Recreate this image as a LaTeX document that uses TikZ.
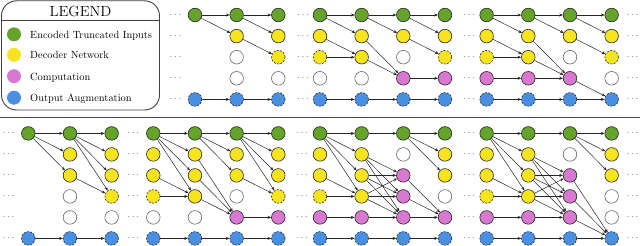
\documentclass[tikz,border=0pt]{standalone}
\usetikzlibrary{arrows.meta}
\definecolor{cgreen}{RGB}{102,163,42}
\definecolor{cyellow}{RGB}{247,227,30}
\definecolor{cpink}{RGB}{217,120,208}
\definecolor{cblue}{RGB}{74,144,226}
\begin{document}
\begin{tikzpicture}[x=1pt,y=-1pt,
  nd/.style={circle,minimum size=13.6pt,inner sep=0pt,line width=0.6pt,draw=black!85},
  nenc/.style={nd,fill=cgreen},
  ndec/.style={nd,fill=cyellow},
  nlast/.style={nd,fill=cyellow,dash pattern=on 2pt off 1.4pt},
  ncomp/.style={nd,fill=cpink},
  nout/.style={nd,fill=cblue,dash pattern=on 2pt off 1.4pt},
  nemp/.style={nd,fill=white,draw=black!60},
  arr/.style={-{Stealth[length=3.6pt,width=3pt]},line width=0.5pt,draw=black!85},
  dotsn/.style={text=black!55,inner sep=0pt},
  lgc/.style={circle,minimum size=14pt,inner sep=0pt},
  lgt/.style={anchor=base west,inner sep=0pt,font=\fontsize{10.4}{12}\selectfont}
]
\useasboundingbox (0,0) rectangle (640,246);

% legend
\node[draw=black!75,line width=0.9pt,rounded corners=15pt,minimum width=158pt,minimum height=109.2pt,inner sep=0pt] (legbox) at (80.5,55.4) {};
\draw[draw=black!75,line width=0.9pt] (legbox.west |- 0,20.7) -- (legbox.east |- 0,20.7);
\node[font=\fontsize{14.7}{17}\selectfont,inner sep=0pt] (legtitle) at (80.5,11.7) {LEGEND};
\node[lgc,fill=cgreen] (lg1) at (14,34.3) {};
\node[lgc,fill=cyellow] (lg2) at (14,54.8) {};
\node[lgc,fill=cpink] (lg3) at (14,76.2) {};
\node[lgc,fill=cblue] (lg4) at (14,97.7) {};
\node[lgt] (lt1) at (30,38.5) {Encoded Truncated Inputs};
\node[lgt] (lt2) at (30,58.8) {Decoder Network};
\node[lgt] (lt3) at (30,80.2) {Computation};
\node[lgt] (lt4) at (30,101.7) {Output Augmentation};

% separator
\coordinate (sepL) at (0,117.5);
\coordinate (sepR) at (640,117.5);
\draw[draw=black!70,line width=0.8pt] (sepL) -- (sepR);

% top dots
\foreach \x [count=\i] in {175.5,303,469,632.5}
  \foreach \r in {1,...,5}
    \node[dotsn] (tdot\i-\r) at (\x,{15+21.1*(\r-1)}) {$\cdots$};
% bottom dots
\foreach \x [count=\i] in {8.5,133.3,302,469,632.5}
  \foreach \r in {1,...,6}
    \node[dotsn] (bdot\i-\r) at (\x,{133.4+21*(\r-1)}) {$\cdots$};

% top nodes
\foreach \c/\r/\s in {
  4/1/nenc, 4/5/nout,
  5/1/nenc, 5/2/ndec, 5/3/nemp, 5/4/nemp, 5/5/nout,
  6/1/nenc, 6/2/ndec, 6/3/nlast, 6/4/nemp, 6/5/nout,
  7/1/nenc, 7/2/ndec, 7/3/nlast, 7/4/nemp, 7/5/nout,
  8/1/nenc, 8/2/ndec, 8/3/ndec, 8/4/nemp, 8/5/nout,
  9/1/nenc, 9/2/ndec, 9/3/nemp, 9/4/ncomp, 9/5/nout,
  10/1/nenc, 10/2/ndec, 10/3/nlast, 10/4/ncomp, 10/5/nout,
  11/1/nenc, 11/2/ndec, 11/3/nlast, 11/4/ncomp, 11/5/nout,
  12/1/nenc, 12/2/ndec, 12/3/ndec, 12/4/ncomp, 12/5/nout,
  13/1/nenc, 13/2/ndec, 13/3/nemp, 13/4/ncomp, 13/5/nout,
  14/1/nenc, 14/2/ndec, 14/3/nlast, 14/4/nemp, 14/5/nout}
  \node[\s] (t\c-\r) at ({28.3+41.667*\c},{15+21.1*(\r-1)}) {};

% bottom nodes
\foreach \c/\r/\s in {
  0/1/nenc, 0/6/nout,
  1/1/nenc, 1/2/ndec, 1/3/ndec, 1/4/nemp, 1/5/nemp, 1/6/nout,
  2/1/nenc, 2/2/ndec, 2/3/ndec, 2/4/nlast, 2/5/nemp, 2/6/nout,
  3/1/nenc, 3/2/ndec, 3/3/ndec, 3/4/nlast, 3/5/nemp, 3/6/nout,
  4/1/nenc, 4/2/ndec, 4/3/ndec, 4/4/ndec, 4/5/nemp, 4/6/nout,
  5/1/nenc, 5/2/ndec, 5/3/ndec, 5/4/nemp, 5/5/ncomp, 5/6/nout,
  6/1/nenc, 6/2/ndec, 6/3/ndec, 6/4/nlast, 6/5/ncomp, 6/6/nout,
  7/1/nenc, 7/2/ndec, 7/3/ndec, 7/4/nlast, 7/5/ncomp, 7/6/nout,
  8/1/nenc, 8/2/ndec, 8/3/ndec, 8/4/ndec, 8/5/ncomp, 8/6/nout,
  9/1/nenc, 9/2/nemp, 9/3/ncomp, 9/4/ncomp, 9/5/ncomp, 9/6/nout,
  10/1/nenc, 10/2/ndec, 10/3/ndec, 10/4/nemp, 10/5/ncomp, 10/6/nout,
  11/1/nenc, 11/2/ndec, 11/3/ndec, 11/4/nlast, 11/5/ncomp, 11/6/nout,
  12/1/nenc, 12/2/ndec, 12/3/ndec, 12/4/ndec, 12/5/ncomp, 12/6/nout,
  13/1/nenc, 13/2/nemp, 13/3/ncomp, 13/4/ncomp, 13/5/ncomp, 13/6/nout,
  14/1/nenc, 14/2/ndec, 14/3/ndec, 14/4/nemp, 14/5/nemp, 14/6/nout}
  \node[\s] (b\c-\r) at ({28.3+41.667*\c},{133.4+21*(\r-1)}) {};

% top edges
\foreach \a/\b in {
  t4-1/t5-1, t4-1/t5-2, t5-1/t6-1, t5-1/t6-2, t5-2/t6-3, t4-5/t5-5, t5-5/t6-5,
  t7-1/t8-1, t7-1/t8-2, t7-2/t8-3, t7-3/t8-3, t7-5/t8-5,
  t8-1/t9-1, t8-1/t9-2, t8-2/t9-4, t8-3/t9-4, t8-5/t9-5,
  t9-1/t10-1, t9-1/t10-2, t9-2/t10-3, t9-4/t10-4, t9-5/t10-5,
  t11-1/t12-1, t11-1/t12-2, t11-2/t12-3, t11-3/t12-3, t11-4/t12-4, t11-5/t12-5,
  t12-1/t13-1, t12-1/t13-2, t12-2/t13-4, t12-3/t13-4, t12-4/t13-4, t12-5/t13-5,
  t13-1/t14-1, t13-1/t14-2, t13-2/t14-3, t13-4/t14-5, t13-5/t14-5}
  \draw[arr] (\a) -- (\b);

% bottom edges
\foreach \a/\b in {
  b0-1/b1-1, b0-1/b1-2, b0-1/b1-3, b0-6/b1-6,
  b1-1/b2-1, b1-1/b2-2, b1-1/b2-3, b1-1/b2-4, b1-3/b2-4, b1-6/b2-6,
  b3-1/b4-1, b3-1/b4-2, b3-1/b4-3, b3-1/b4-4, b3-3/b4-4, b3-4/b4-4, b3-6/b4-6,
  b4-1/b5-1, b4-1/b5-2, b4-1/b5-3, b4-2/b5-5, b4-3/b5-5, b4-4/b5-5, b4-6/b5-6,
  b5-1/b6-1, b5-1/b6-2, b5-1/b6-3, b5-1/b6-4, b5-3/b6-4, b5-5/b6-5, b5-6/b6-6,
  b7-1/b8-1, b7-1/b8-2, b7-1/b8-3, b7-1/b8-4, b7-3/b8-4, b7-4/b8-4, b7-5/b8-5, b7-6/b8-6,
  b8-1/b9-1, b8-2/b9-3, b8-2/b9-4, b8-2/b9-5, b8-3/b9-3, b8-3/b9-4, b8-3/b9-5,
  b8-4/b9-3, b8-4/b9-4, b8-4/b9-5, b8-5/b9-5, b8-6/b9-6,
  b9-1/b10-1, b9-1/b10-2, b9-1/b10-3, b9-3/b10-5, b9-4/b10-5, b9-5/b10-5, b9-6/b10-6,
  b11-1/b12-1, b11-1/b12-2, b11-1/b12-3, b11-1/b12-4, b11-3/b12-4, b11-4/b12-4, b11-5/b12-5, b11-6/b12-6,
  b12-1/b13-1, b12-2/b13-3, b12-2/b13-4, b12-2/b13-5, b12-3/b13-3, b12-3/b13-4, b12-3/b13-5,
  b12-4/b13-3, b12-4/b13-4, b12-4/b13-5, b12-5/b13-5, b12-6/b13-6,
  b13-1/b14-1, b13-1/b14-2, b13-1/b14-3, b13-3/b14-6, b13-4/b14-6, b13-5/b14-6, b13-6/b14-6}
  \draw[arr] (\a) -- (\b);
\end{tikzpicture}
\end{document}
